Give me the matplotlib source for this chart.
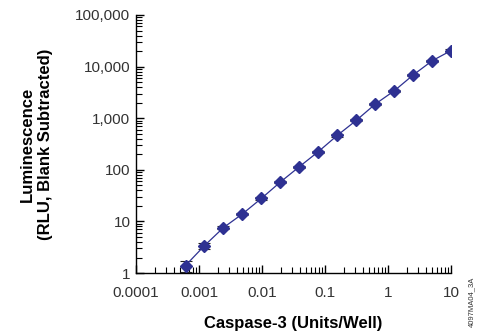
import matplotlib
matplotlib.use("Agg")
import matplotlib.pyplot as plt
from matplotlib.ticker import FixedLocator, LogLocator, NullFormatter

plt.rcParams['font.family'] = ['Liberation Sans', 'DejaVu Sans']

# Caspase-3 dilution series (Units/Well) and luminescence (RLU)
units = [0.00061, 0.00122, 0.00244, 0.00488, 0.00977, 0.0195, 0.039,
         0.078, 0.156, 0.3125, 0.625, 1.25, 2.5, 5, 10]
rlu = [1.4, 3.4, 7.6, 14, 28, 58, 115, 225, 465, 910, 1880, 3400,
       6900, 13000, 20500]
err = [0.35, 0.5, 0.6, 0.8, 1.5, 3, 6, 11, 23, 45, 90, 170, 340, 640, 1000]

xticks = [0.0001, 0.001, 0.01, 0.1, 1, 10]
xticklabels = ['0.0001', '0.001', '0.01', '0.1', '1', '10']
yticks = [1, 10, 100, 1000, 10000, 100000]
yticklabels = ['1', '10', '100', '1,000', '10,000', '100,000']

navy = '#2e3192'

fig = plt.figure(figsize=(4.91, 3.33), dpi=100)
ax = fig.add_axes([0.277, 0.180, 0.642, 0.775])

ax.errorbar(units, rlu, yerr=err, color=navy, ecolor='#222222', elinewidth=0.8,
            capsize=4, capthick=0.8, lw=0.9, marker='D', ms=6.5,
            mfc=navy, mec=navy, zorder=3)

ax.set_xscale('log')
ax.set_yscale('log')
ax.set_xlim(1e-4, 10)
ax.set_ylim(1, 1e5)

ax.xaxis.set_major_locator(FixedLocator(xticks))
ax.set_xticklabels(xticklabels)
ax.yaxis.set_major_locator(FixedLocator(yticks))
ax.set_yticklabels(yticklabels)
ax.xaxis.set_minor_locator(LogLocator(base=10, subs=range(2, 10), numticks=20))
ax.yaxis.set_minor_locator(LogLocator(base=10, subs=range(2, 10), numticks=20))
ax.xaxis.set_minor_formatter(NullFormatter())
ax.yaxis.set_minor_formatter(NullFormatter())

for s in ['top', 'right']:
    ax.spines[s].set_visible(False)
ax.spines['left'].set_linewidth(1.0)
ax.spines['bottom'].set_linewidth(1.0)
ax.tick_params(which='major', direction='in', length=6, width=1.0,
               labelsize=11, labelcolor='#333333')
ax.tick_params(axis='x', which='major', pad=9)
ax.tick_params(axis='y', which='major', pad=4)
ax.tick_params(which='minor', direction='in', length=4, width=0.8)

ax.set_xlabel('Caspase-3 (Units/Well)', fontsize=12, fontweight='bold',
              labelpad=12)
ax.set_ylabel('Luminescence\n(RLU, Blank Subtracted)', fontsize=12,
              fontweight='bold', labelpad=16, linespacing=1.3)

fig.text(0.961, 0.168, '4097MA04_3A', rotation=90, fontsize=5.5,
         ha='center', va='top', color='#333333')

fig.savefig('out.png', dpi=100)
